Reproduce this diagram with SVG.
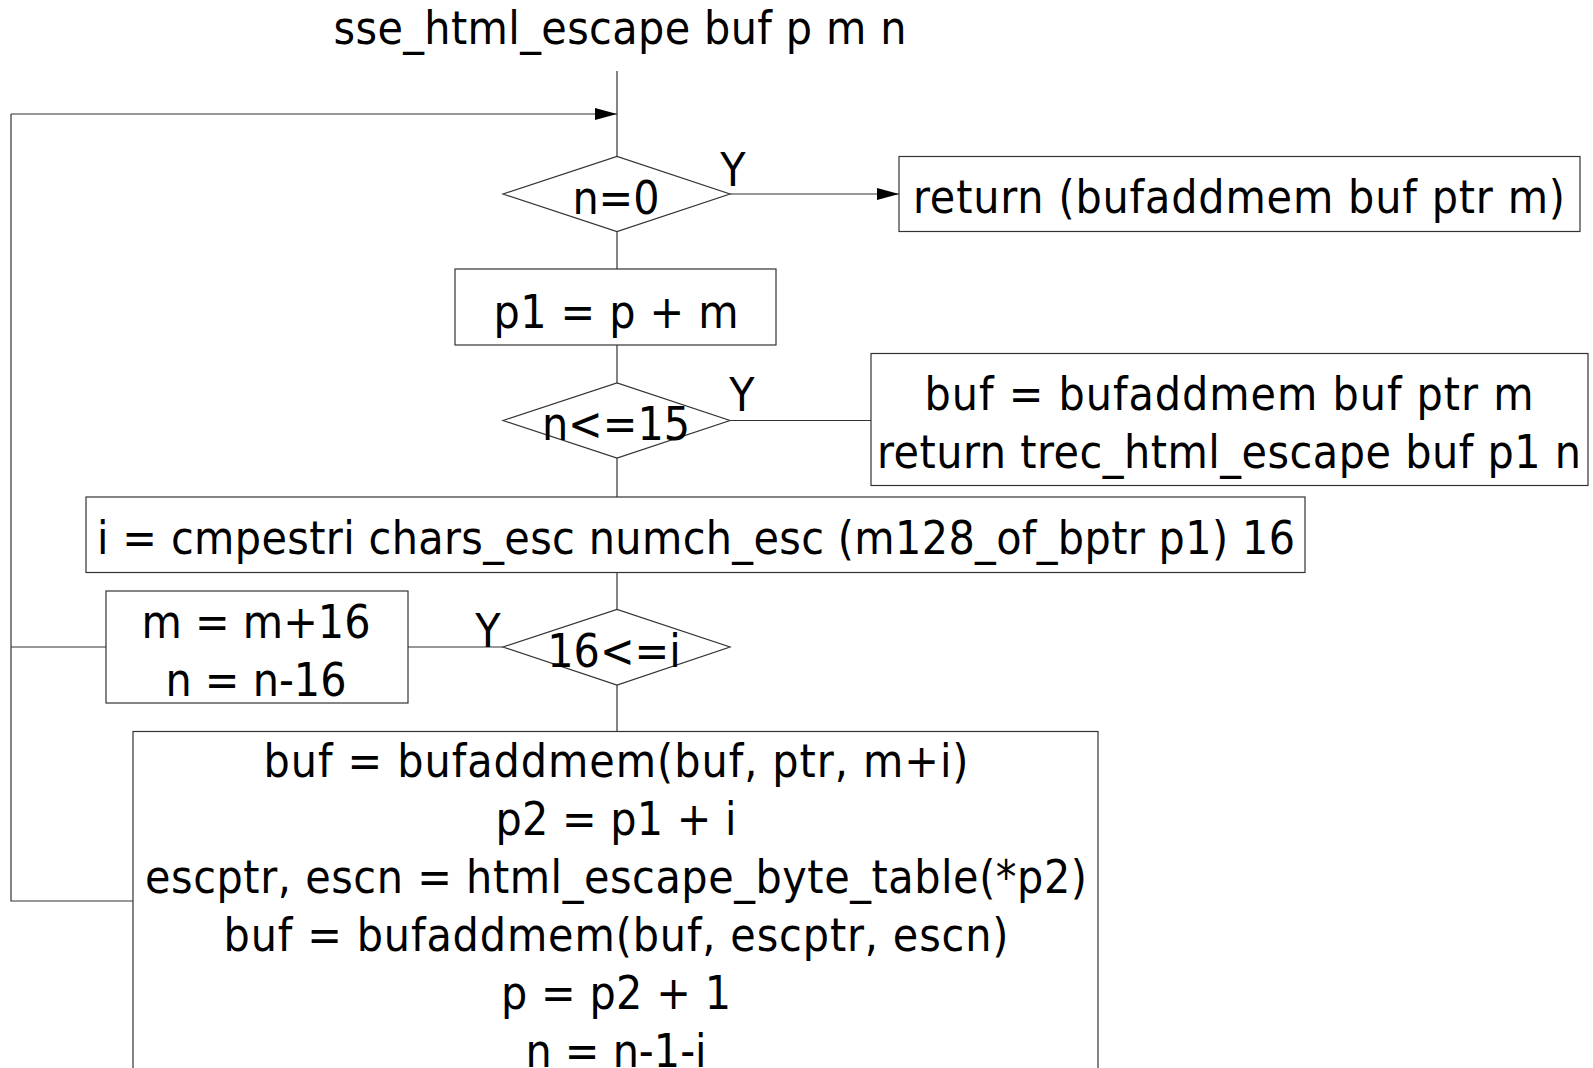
<svg xmlns="http://www.w3.org/2000/svg" width="1593" height="1068" viewBox="0 0 1593 1068">
<style>
text{font-family:"DejaVu Sans Condensed","DejaVu Sans",sans-serif;font-size:46px;fill:#000;text-anchor:middle;font-stretch:condensed}
.n{fill:#fff;stroke:#333;stroke-width:1.2}
.c{fill:none;stroke:#333;stroke-width:1.2}
</style>
<defs>
<marker id="ah" viewBox="0 0 22 12" refX="22" refY="6" markerWidth="22" markerHeight="12" markerUnits="userSpaceOnUse" orient="auto">
<path d="M0,0 L22,6 L0,12 Z" fill="#000"/>
</marker>
</defs>
<rect width="1593" height="1068" fill="#fff"/>
<g id="connectors">
<path class="c" d="M617,71 V156.5"/>
<path class="c" d="M11,114 H617" marker-end="url(#ah)"/>
<path class="c" d="M730,194 H899" marker-end="url(#ah)"/>
<path class="c" d="M617,231.5 V269"/>
<path class="c" d="M617,345 V383"/>
<path class="c" d="M730,420.5 H871"/>
<path class="c" d="M617,458 V497"/>
<path class="c" d="M617,572.5 V609.5"/>
<path class="c" d="M503,647 H408"/>
<path class="c" d="M106,647 H11"/>
<path class="c" d="M617,685 V731.5"/>
<path class="c" d="M133,901 H11 V114"/>
</g>
<g id="title"><text x="620" y="44" textLength="573" lengthAdjust="spacing">sse_html_escape buf p m n</text></g>
<g id="d1">
<polygon class="n" points="503,194 617,156.5 730,194 617,231.5"/>
<text x="616" y="214">n=0</text>
<text x="733" y="186">Y</text>
</g>
<g id="ret1">
<rect class="n" x="899" y="156.5" width="681" height="75"/>
<text x="1239" y="213" textLength="652" lengthAdjust="spacing">return (bufaddmem buf ptr m)</text>
</g>
<g id="p1">
<rect class="n" x="455" y="269" width="321" height="76"/>
<text x="616" y="328" textLength="245" lengthAdjust="spacing">p1 = p + m</text>
</g>
<g id="d2">
<polygon class="n" points="503,420.5 617,383 730,420.5 617,458"/>
<text x="616" y="440">n&lt;=15</text>
<text x="742" y="411">Y</text>
</g>
<g id="ret2">
<rect class="n" x="871" y="353.5" width="717" height="132"/>
<text x="1229" y="409.5" textLength="609" lengthAdjust="spacing">buf = bufaddmem buf ptr m</text>
<text x="1229" y="468" textLength="704" lengthAdjust="spacing">return trec_html_escape buf p1 n</text>
</g>
<g id="cmp">
<rect class="n" x="86" y="497" width="1219" height="75.5"/>
<text x="696" y="554" textLength="1198" lengthAdjust="spacing">i = cmpestri chars_esc numch_esc (m128_of_bptr p1) 16</text>
</g>
<g id="d3">
<polygon class="n" points="503,647 617,609.5 730,647 617,685"/>
<text x="614" y="667">16&lt;=i</text>
<text x="488" y="647">Y</text>
</g>
<g id="inc">
<rect class="n" x="106" y="591" width="302" height="112"/>
<text x="256" y="638" textLength="229" lengthAdjust="spacing">m = m+16</text>
<text x="256" y="696">n = n-16</text>
</g>
<g id="esc">
<rect class="n" x="133" y="731.5" width="965" height="400"/>
<text x="616" y="777" textLength="705" lengthAdjust="spacing">buf = bufaddmem(buf, ptr, m+i)</text>
<text x="616" y="835" textLength="241" lengthAdjust="spacing">p2 = p1 + i</text>
<text x="616" y="893" textLength="942" lengthAdjust="spacing">escptr, escn = html_escape_byte_table(*p2)</text>
<text x="616" y="951" textLength="785" lengthAdjust="spacing">buf = bufaddmem(buf, escptr, escn)</text>
<text x="616" y="1009" textLength="230" lengthAdjust="spacing">p = p2 + 1</text>
<text x="616" y="1067">n = n-1-i</text>
</g>
</svg>
